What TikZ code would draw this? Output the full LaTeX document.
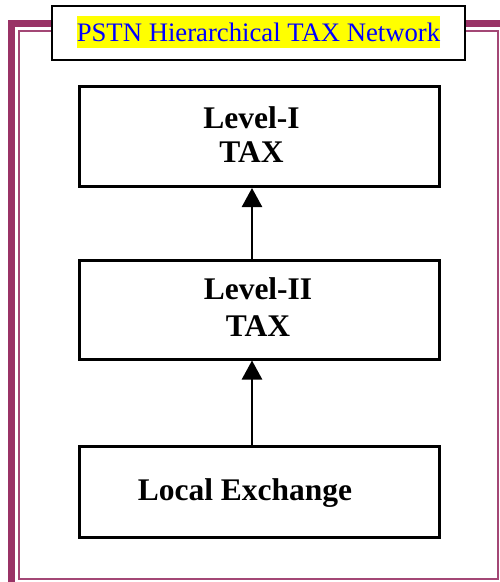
\documentclass[tikz,border=0pt]{standalone}
\usepackage{fontspec}
\setmainfont{Liberation Serif}
\usetikzlibrary{arrows.meta}
\definecolor{plum}{RGB}{153,51,102}
\definecolor{hiyellow}{RGB}{255,255,0}
\definecolor{titleblue}{RGB}{0,0,255}

\begin{document}
\begin{tikzpicture}[x=1pt,y=-1pt,
  tierbox/.style={draw=black,line width=3pt,fill=white,inner sep=0pt,
                  minimum width=360pt},
  tierlabel/.style={anchor=base,align=center,inner sep=0pt},
  uparrow/.style={line width=2.5pt,-{Triangle[length=19pt,width=20pt]}}]
  \useasboundingbox (0,0) rectangle (500,582);
  \begin{scope}
    \clip (0,0) rectangle (500,582);
    % double page border
    \draw[plum,line width=6.5pt] (11.5,23.5) rectangle (505.5,586);
    \draw[plum!90,line width=2pt] (19,31) rectangle (498,578.5);
  \end{scope}

  % title box
  \node (titlebox) [draw=black,line width=2pt,fill=white,inner sep=0pt,
        minimum width=413pt,minimum height=53.5pt] at (258.5,32.75) {};
  \node (title) [anchor=base,fill=hiyellow,text=titleblue,inner sep=0pt,
        text height=25.7pt,text depth=6.3pt,
        font=\fontsize{26.7}{32}\selectfont] at (258.5,41.7)
        {PSTN Hierarchical TAX Network};

  % exchange levels (label anchors sit on the last line's baseline)
  \node (l1) [tierbox,minimum height=100pt] at (259.5,136.5) {};
  \node (l1text) [tierlabel,font=\fontsize{31.5}{34}\selectfont\bfseries]
        at (251.5,162) {Level-I\\TAX};

  \node (l2) [tierbox,minimum height=99pt] at (259.5,309.5) {};
  \node (l2text) [tierlabel,font=\fontsize{31.5}{37}\selectfont\bfseries]
        at (258,336) {Level-II\\TAX};

  \node (local) [tierbox,minimum height=91pt] at (259.5,492) {};
  \node (localtext) [tierlabel,font=\fontsize{31.5}{36}\selectfont\bfseries]
        at (245,500) {Local Exchange};

  % connectors
  \coordinate (axis) at (252,0);
  \draw[uparrow] (l2.north -| axis) -- (l1.south -| axis);
  \draw[uparrow] (local.north -| axis) -- (l2.south -| axis);
\end{tikzpicture}
\end{document}
